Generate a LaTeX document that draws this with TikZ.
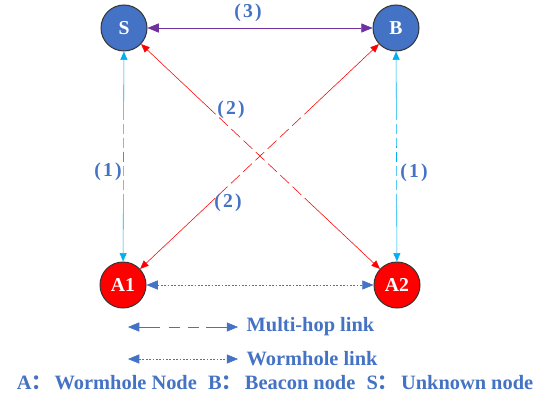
\documentclass[tikz,border=0pt]{standalone}
\usepackage{fontspec}
\setmainfont{Liberation Serif}
\newfontfamily\cjk{Noto Sans CJK SC}
\usetikzlibrary{arrows.meta,positioning}
\definecolor{nodeblue}{RGB}{68,114,196}
\definecolor{linkcyan}{RGB}{0,176,240}
\definecolor{linkpurple}{RGB}{112,48,160}
\newcommand{\plabel}[1]{(\kern1.5pt#1\kern1.5pt)}
\tikzset{
	line width=1pt,
	known/.style={circle, draw=black!80, line width=0.7pt, fill=nodeblue, minimum size=1.15cm, inner sep=0pt, text=white, font=\fontsize{14}{16}\selectfont\bfseries}, % beacon and unknown node
	worm/.style={known, fill=red}, % wormhole nodes
	lbl/.style={text=nodeblue, inner sep=0pt, font=\fontsize{14}{16}\selectfont\bfseries},
	legtext/.style={text=nodeblue, inner sep=0pt, font=\fontsize{14.5}{17}\selectfont\bfseries},
	cyanhop/.style={linkcyan, {Triangle[length=6pt,width=5pt]}-{Triangle[length=6pt,width=5pt]}, dash pattern=on 1.5cm off 0.1cm on 0.25cm off 0.1cm on 0.25cm off 0.1cm on 0.25cm off 0.1cm on 0.25cm off 0.1cm on 0.25cm off 0.1cm on 20cm},
	redhop/.style={red, {Triangle[length=6pt,width=5pt]}-{Triangle[length=6pt,width=5pt]}, dash pattern=on 2.35cm off 0.12cm on 0.3cm off 0.12cm on 0.3cm off 0.12cm on 0.3cm off 0.12cm on 0.3cm off 0.12cm on 0.3cm off 0.12cm on 0.3cm off 0.12cm on 0.3cm off 0.12cm on 20cm},
	hoplegend/.style={nodeblue, {Triangle[length=8pt,width=6.5pt]}-{Triangle[length=8pt,width=6.5pt]}, dash pattern=on 0.52cm off 0.22cm on 0.28cm off 0.2cm on 0.28cm off 0.18cm on 5cm},
	wormlink/.style={nodeblue, {Triangle[length=8pt,width=6.5pt]}-{Triangle[length=8pt,width=6.5pt]}, dash pattern=on 1.2pt off 1.2pt}
}
\begin{document}
\begin{tikzpicture}[x=0.025cm,y=-0.025cm]
\useasboundingbox (0,0) rectangle (544,400);
% nodes
\node[known] (S) at (124,28) {S};
\node[known] (B) at (396,28) {B};
\node[worm] (A1) at (123,285) {A1};
\node[worm] (A2) at (397,285) {A2};
% links
\draw[linkpurple, {Triangle[length=8pt,width=6.5pt]}-{Triangle[length=8pt,width=6.5pt]}] (S) -- (B);
\draw[cyanhop] (S) -- (A1);
\draw[cyanhop] (B) -- (A2);
\draw[redhop] (S) -- (A2);
\draw[redhop] (B) -- (A1);
\draw[wormlink] (A1) -- (A2);
% link labels
\node[lbl] (l3) at (248,13) {\plabel{3}};
\node[lbl] (l1a) at (108,172) {\plabel{1}};
\node[lbl] (l1b) at (414,173) {\plabel{1}};
\node[lbl] (l2a) at (231,110) {\plabel{2}};
\node[lbl] (l2b) at (228,203) {\plabel{2}};
% legend
\coordinate (h1) at (128,327);
\coordinate (h2) at (238,327);
\draw[hoplegend] (h1) -- (h2);
\node[legtext, anchor=west, right=6pt of h2] (hoptext) {Multi-hop link};
\coordinate (w1) at (128,359);
\coordinate (w2) at (238,359);
\draw[wormlink] (w1) -- (w2);
\node[legtext, anchor=west, right=6pt of w2] (wormtext) {Wormhole link};
\node[legtext] (key) at (275,383) {A{\cjk ：}\hspace{2pt}Wormhole Node\hspace{8pt}B{\cjk ：}\hspace{2pt}Beacon node\hspace{8pt}S{\cjk ：}\hspace{2pt}Unknown node};
\end{tikzpicture}
\end{document}
